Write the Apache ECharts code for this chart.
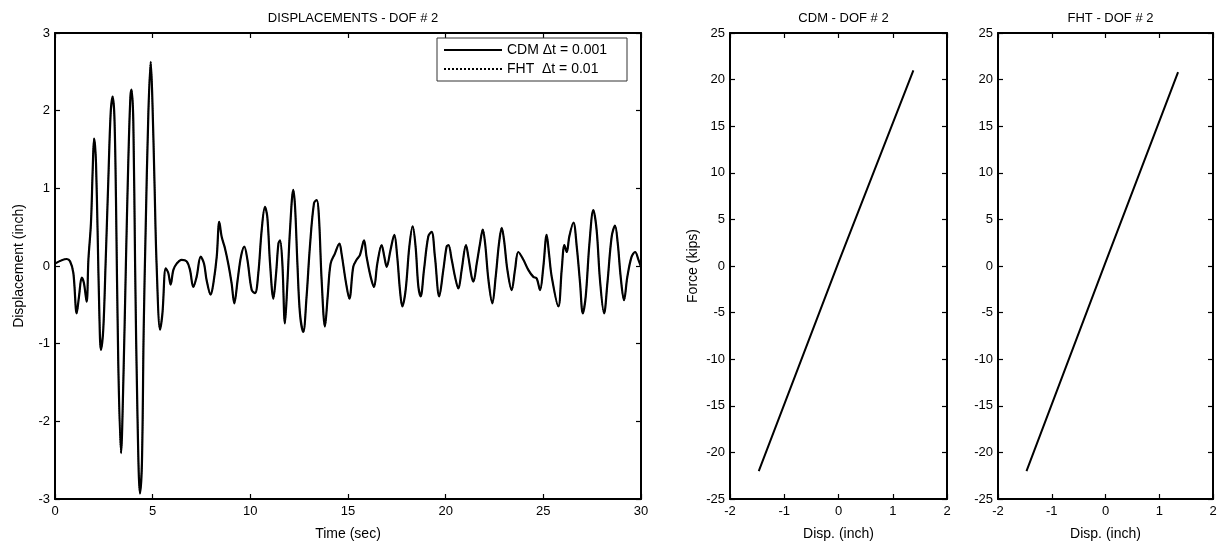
<!DOCTYPE html>
<html>
<head>
<meta charset="utf-8">
<script src="https://cdn.jsdelivr.net/npm/echarts@6/dist/echarts.min.js"></script>
<style>
html,body{margin:0;padding:0;background:#fff;}
#chart{width:1224px;height:552px;}
</style>
</head>
<body>
<div id="chart"></div>
<script>
// ---- Data ----
const titles = ['DISPLACEMENTS - DOF # 2', 'CDM - DOF # 2', 'FHT - DOF # 2'];
const legendNames = ['CDM \u0394t = 0.001', 'FHT  \u0394t = 0.01'];

// Displacement time history (sec, inch)
const dispTime = [
  0,0.6,0.77,0.94,1.11,1.23,1.37,1.48,1.62,1.71,1.84,1.93,2.0,2.05,2.1,2.18,2.27,2.35,2.47,2.59,
  2.73,2.85,2.95,3.04,3.12,3.24,3.38,3.5,3.63,3.75,3.86,3.92,4.01,4.1,4.22,4.35,4.45,4.54,4.64,4.78,
  4.9,4.98,5.09,5.2,5.38,5.5,5.67,5.8,5.92,6.06,6.23,6.48,6.74,6.91,7.08,7.25,7.46,7.63,7.76,7.97,
  8.11,8.28,8.41,8.53,8.7,8.87,9.04,9.18,9.35,9.52,9.69,9.85,10.07,10.24,10.41,10.58,10.75,10.87,11.01,11.18,
  11.32,11.44,11.52,11.64,11.77,11.89,12.03,12.2,12.29,12.41,12.54,12.71,12.88,13.05,13.26,13.4,13.51,13.65,13.82,13.96,
  14.11,14.33,14.56,14.67,14.9,15.07,15.27,15.44,15.61,15.82,15.95,16.16,16.33,16.5,16.72,16.86,16.98,17.18,17.37,17.52,
  17.66,17.78,17.95,18.14,18.31,18.46,18.6,18.72,18.89,19.11,19.28,19.45,19.67,19.88,20.05,20.14,20.31,20.48,20.65,20.82,
  21.04,21.16,21.33,21.42,21.59,21.76,21.9,22.02,22.19,22.39,22.56,22.73,22.87,22.99,23.16,23.38,23.55,23.72,23.98,24.23,
  24.49,24.66,24.83,25.0,25.17,25.29,25.43,25.77,25.94,26.08,26.2,26.33,26.54,26.71,26.88,27.02,27.17,27.36,27.56,27.73,
  27.9,28.11,28.28,28.5,28.67,28.81,28.96,29.13,29.3,29.52,29.7,29.87,30.0
];
const cdmDisp = [
  0.03,0.09,0.06,-0.09,-0.61,-0.39,-0.15,-0.22,-0.46,0.08,0.55,1.24,1.64,1.55,1.32,0.46,-0.61,-1.08,-0.82,0.03,
  1.11,1.97,2.18,1.93,0.89,-1.26,-2.41,-1.47,0.03,1.32,2.18,2.27,1.85,0.03,-1.9,-2.93,-2.54,-0.82,0.46,1.97,
  2.63,2.18,1.11,0.03,-0.82,-0.61,-0.03,-0.09,-0.24,-0.05,0.03,0.08,0.06,-0.05,-0.27,-0.14,0.12,0.03,-0.18,-0.37,
  -0.22,0.12,0.57,0.38,0.23,0.03,-0.22,-0.48,-0.18,0.12,0.25,0.08,-0.31,-0.35,-0.09,0.46,0.76,0.63,0.03,-0.42,
  -0.09,0.29,0.33,0.03,-0.74,-0.26,0.46,0.98,0.76,0.03,-0.61,-0.85,-0.39,0.25,0.81,0.85,0.64,-0.18,-0.78,-0.39,
  0.03,0.16,0.29,0.16,-0.22,-0.42,-0.01,0.08,0.14,0.33,0.12,-0.14,-0.27,0.03,0.27,0.12,-0.01,0.21,0.40,0.12,
  -0.31,-0.52,-0.31,0.25,0.51,0.25,-0.26,-0.39,-0.05,0.38,0.44,0.12,-0.39,-0.05,0.25,0.27,0.08,-0.14,-0.29,-0.05,
  0.27,0.12,-0.14,-0.2,0.03,0.29,0.47,0.29,-0.18,-0.48,-0.14,0.29,0.49,0.33,-0.05,-0.31,-0.05,0.18,0.08,-0.05,
  -0.14,-0.16,-0.31,-0.01,0.40,0.16,-0.14,-0.52,-0.05,0.27,0.18,0.38,0.56,0.25,-0.22,-0.61,-0.39,0.29,0.72,0.46,
  -0.18,-0.61,-0.22,0.38,0.52,0.29,-0.14,-0.44,-0.14,0.12,0.18,0.08,-0.01
];
// FHT trace overlaps the CDM trace everywhere in the picture
const fhtDisp = cdmDisp.slice();

// Force-displacement (inch, kips)
const cdmFdDisp = [-1.47, 0.0, 1.38];
const cdmForce  = [-22.0, 0.4, 21.0];
const fhtFdDisp = [-1.47, 0.0, 1.35];
const fhtForce  = [-22.0, 0.4, 20.8];

const dispTicks = {xmin:0, xmax:30, xint:5, ymin:-3, ymax:3, yint:1};
const fdTicks   = {xmin:-2, xmax:2, xint:1, ymin:-25, ymax:25, yint:5};

// ---- Build chart ----
const FONT = '"Liberation Sans", Arial, Helvetica, sans-serif';
const zip = (a, b) => a.map((v, i) => [v, b[i]]);

const grids = [
  {left:55, top:33, width:586, height:466},
  {left:730, top:33, width:217, height:466},
  {left:998, top:33, width:215, height:466}
];
const tickSets = [dispTicks, fdTicks, fdTicks];
const xNames = ['Time (sec)', 'Disp. (inch)', 'Disp. (inch)'];
const yNames = ['Displacement (inch)', 'Force (kips)', ''];

const axLine = {show:true, onZero:false, lineStyle:{color:'#000', width:2}};
const axTick = {show:true, inside:true, length:5, lineStyle:{color:'#000', width:1.2}};
const labelStyle = {color:'#000', fontSize:13, fontFamily:FONT};

const xAxes = [], yAxes = [];
grids.forEach((g, i) => {
  const t = tickSets[i];
  xAxes.push({
    type:'value', gridIndex:i, position:'bottom', min:t.xmin, max:t.xmax, interval:t.xint,
    axisLine:axLine, axisTick:axTick, splitLine:{show:false},
    axisLabel:Object.assign({margin:6}, labelStyle),
    name:xNames[i], nameLocation:'middle', nameGap:28,
    nameTextStyle:{color:'#000', fontSize:14, fontFamily:FONT}
  });
  xAxes.push({
    type:'value', gridIndex:i, position:'top', min:t.xmin, max:t.xmax, interval:t.xint,
    axisLine:axLine, axisTick:axTick, splitLine:{show:false}, axisLabel:{show:false}
  });
  yAxes.push({
    type:'value', gridIndex:i, position:'left', min:t.ymin, max:t.ymax, interval:t.yint,
    axisLine:axLine, axisTick:axTick, splitLine:{show:false},
    axisLabel:Object.assign({margin:5}, labelStyle),
    name:yNames[i], nameLocation:'middle', nameGap:i === 0 ? 29 : 30, nameRotate:90,
    nameTextStyle:{color:'#000', fontSize:14, fontFamily:FONT}
  });
  yAxes.push({
    type:'value', gridIndex:i, position:'right', min:t.ymin, max:t.ymax, interval:t.yint,
    axisLine:axLine, axisTick:axTick, splitLine:{show:false}, axisLabel:{show:false}
  });
});

const titleCenters = [348, 838.5, 1105.5];
const option = {
  backgroundColor:'#fff',
  animation:false,
  title: titles.map((txt, i) => ({
    text:txt, left:titleCenters[i], top:7, textAlign:'center',
    textStyle:{color:'#000', fontSize:13, fontWeight:'normal', fontFamily:FONT}
  })),
  legend:{
    data:legendNames.map(n => ({name:n})),
    orient:'vertical', left:437, top:38,
    backgroundColor:'#fff', borderColor:'#333', borderWidth:1,
    padding:[5, 20, 5, 6], itemGap:5, itemWidth:58, itemHeight:10,
    textStyle:{color:'#000', fontSize:14, fontFamily:FONT},
    itemStyle:{opacity:0}
  },
  grid:grids,
  xAxis:xAxes,
  yAxis:yAxes,
  series:[
    {
      name:legendNames[0], type:'line', xAxisIndex:0, yAxisIndex:0,
      data:zip(dispTime, cdmDisp), showSymbol:false, symbol:'none', smooth:0.35,
      lineStyle:{color:'#000', width:2.2, type:'solid'}, itemStyle:{color:'#000'}, z:2
    },
    {
      name:legendNames[1], type:'line', xAxisIndex:0, yAxisIndex:0,
      data:zip(dispTime, fhtDisp), showSymbol:false, symbol:'none', smooth:0.35,
      lineStyle:{color:'#000', width:1.2, type:'dotted'}, itemStyle:{color:'#000'}, z:3
    },
    {
      name:'CDM F-D', type:'line', xAxisIndex:2, yAxisIndex:2,
      data:zip(cdmFdDisp, cdmForce), showSymbol:false, symbol:'none',
      lineStyle:{color:'#000', width:2}
    },
    {
      name:'FHT F-D', type:'line', xAxisIndex:4, yAxisIndex:4,
      data:zip(fhtFdDisp, fhtForce), showSymbol:false, symbol:'none',
      lineStyle:{color:'#000', width:2}
    }
  ]
};

const chart = echarts.init(document.getElementById('chart'), null, {renderer:'canvas'});
chart.setOption(option);
</script>
</body>
</html>
